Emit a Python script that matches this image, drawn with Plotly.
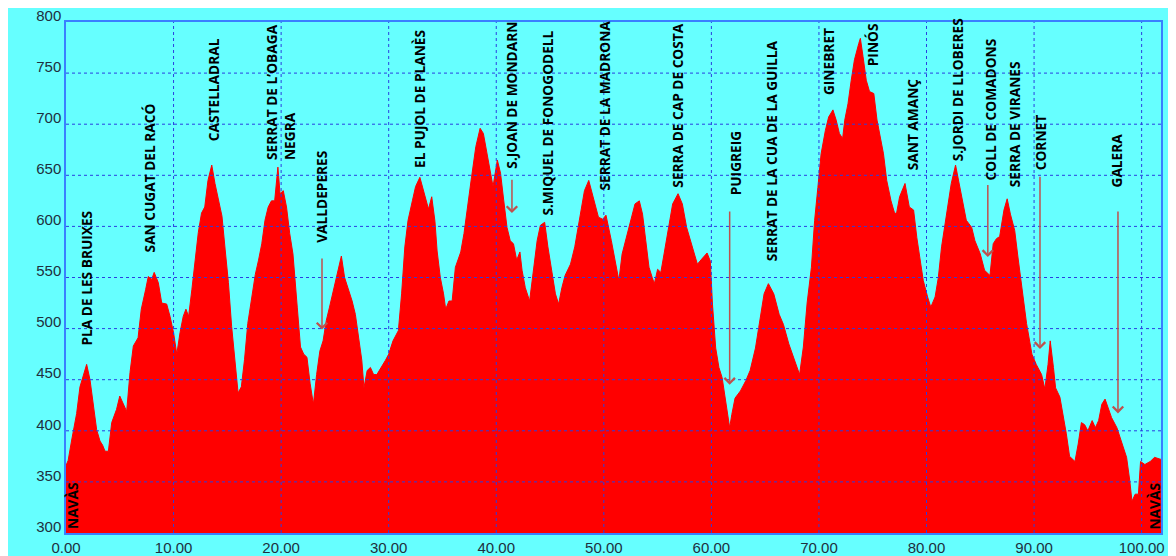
import plotly.graph_objects as go

# ---------------- data ----------------
km = [0.0, 0.2, 0.53, 0.99, 1.3, 1.6, 1.92, 2.23, 2.54, 2.85, 3.16, 3.4, 3.63, 3.94, 4.25, 4.7, 5.0, 5.3, 5.64, 5.95,
      6.26, 6.7, 7.0, 7.4, 7.65, 7.96, 8.2, 8.58, 8.9, 9.36, 9.67, 10.0, 10.3, 10.6, 10.9, 11.15, 11.4, 11.7, 12.0, 12.3,
      12.6, 12.9, 13.2, 13.55, 13.85, 14.2, 14.5, 14.8, 15.1, 15.4, 15.7, 16.0, 16.3, 16.6, 16.9, 17.3, 17.6, 17.9, 18.2,
      18.5, 18.8, 19.1, 19.4, 19.7, 19.9, 20.2, 20.5, 20.8, 21.1, 21.5, 21.8, 22.1, 22.4, 22.7, 23.0, 23.3, 23.6, 23.9,
      24.2, 24.5, 24.9, 25.2, 25.6, 25.9, 26.3, 26.6, 26.9, 27.2, 27.5, 27.7, 28.0, 28.3, 28.6, 28.9, 29.2, 29.7, 30.0,
      30.4, 30.9, 31.2, 31.5, 31.8, 32.2, 32.5, 32.9, 33.4, 33.7, 34.0, 34.3, 34.5, 34.8, 35.1, 35.3, 35.6, 35.9, 36.2,
      36.7, 37.0, 37.4, 37.7, 38.1, 38.5, 38.8, 39.1, 39.4, 39.7, 40.1, 40.4, 40.7, 41.0, 41.3, 41.6, 41.9, 42.2, 42.4,
      42.7, 43.1, 43.5, 43.8, 44.1, 44.5, 44.8, 45.2, 45.5, 45.8, 46.1, 46.4, 46.9, 47.3, 47.8, 48.2, 48.6, 49.0, 49.5,
      49.9, 50.2, 50.7, 51.1, 51.4, 51.7, 52.2, 52.6, 52.9, 53.3, 53.6, 53.9, 54.2, 54.5, 54.7, 55.0, 55.3, 55.6, 56.0,
      56.4, 56.9, 57.3, 57.7, 58.2, 58.7, 59.1, 59.6, 59.9, 60.1, 60.4, 60.7, 61.0, 61.3, 61.7, 61.9, 62.2, 62.7, 63.2,
      63.6, 64.1, 64.4, 64.9, 65.3, 65.8, 66.3, 66.7, 67.2, 67.8, 68.2, 68.55, 68.9, 69.3, 69.6, 69.9, 70.2, 70.6, 70.9,
      71.3, 71.6, 71.9, 72.2, 72.4, 72.7, 73.0, 73.3, 73.7, 73.85, 74.1, 74.4, 74.7, 75.1, 75.4, 75.7, 76.0, 76.3, 76.7,
      77.0, 77.2, 77.5, 78.0, 78.4, 78.8, 79.1, 79.4, 79.7, 80.1, 80.4, 80.8, 81.1, 81.4, 81.9, 82.3, 82.7, 83.1, 83.4,
      83.7, 84.2, 84.5, 85.0, 85.4, 85.9, 86.2, 86.5, 86.8, 87.2, 87.5, 87.8, 88.2, 88.5, 88.9, 89.3, 89.8, 90.2, 90.7,
      91.0, 91.3, 91.5, 91.8, 92.0, 92.4, 92.7, 93.0, 93.3, 93.8, 94.1, 94.4, 94.7, 95.0, 95.4, 95.7, 96.0, 96.3, 96.6,
      96.9, 97.2, 97.7, 98.1, 98.6, 98.9, 99.1, 99.4, 99.7, 99.9, 100.3, 100.8, 101.2, 101.8]
elev = [366, 371, 391, 417, 443, 453, 465, 450, 424, 401, 390, 386, 380, 380, 408, 421, 434, 427, 419, 457,
        483, 491, 519, 538, 551, 548, 555, 545, 525, 524, 512, 496, 475, 496, 512, 519, 512, 538, 564, 594,
        613, 619, 645, 660, 642, 623, 610, 577, 545, 502, 466, 437, 443, 470, 505, 534, 553, 567, 583,
        606, 619, 625, 625, 658, 632, 635, 619, 593, 573, 521, 482, 475, 472, 446, 426, 455, 478, 488,
        508, 521, 540, 553, 571, 550, 537, 527, 514, 491, 469, 442, 459, 462, 455, 455, 460, 469, 475,
        488, 498, 534, 580, 606, 625, 639, 648, 629, 617, 629, 605, 576, 550, 534, 519, 527, 527, 560,
        575, 593, 622, 648, 678, 696, 691, 674, 658, 639, 665, 652, 625, 599, 586, 583, 567, 575, 557,
        540, 527, 560, 586, 601, 604, 580, 553, 534, 524, 540, 552, 563, 580, 612, 635, 645, 629, 609,
        607, 611, 586, 565, 547, 573, 593, 609, 622, 625, 612, 586, 560, 550, 544, 558, 555, 573, 599,
        622, 632, 622, 599, 581, 563, 568, 574, 566, 524, 481, 462, 452, 429, 403, 416, 432, 439, 449,
        459, 481, 501, 534, 544, 534, 514, 504, 485, 468, 455, 482, 525, 560, 606, 638, 671, 694, 707,
        714, 704, 691, 686, 704, 720, 743, 763, 779, 784, 766, 743, 732, 730, 704, 688, 671, 645, 625,
        614, 612, 629, 642, 619, 616, 589, 567, 547, 531, 521, 531, 550, 580, 612, 642, 660, 638, 619,
        606, 599, 586, 573, 557, 552, 583, 588, 590, 616, 627, 612, 596, 570, 537, 505, 475, 465, 455,
        441, 465, 488, 462, 442, 433, 416, 397, 375, 370, 387, 408, 406, 400, 410, 403, 410, 426, 431,
        423, 413, 403, 390, 374, 351, 331, 338, 338, 370, 367, 370, 374, 372]

x_ticks = [0, 10, 20, 30, 40, 50, 60, 70, 80, 90, 100]
y_ticks = [300, 350, 400, 450, 500, 550, 600, 650, 700, 750, 800]

place_names = ["NAVÀS", "PLA DE LES BRUIXES", "SAN CUGAT DEL RACÓ", "CASTELLADRAL",
               "SERRAT DE L’OBAGA<br>NEGRA", "VALLDEPERES", "EL PUJOL DE PLANÈS", "S.JOAN DE MONDARN",
               "S.MIQUEL DE FONOGODELL", "SERRAT DE LA MADRONA", "SERRA DE CAP DE COSTA", "PUIGREIG",
               "SERRAT DE LA CUA DE LA GUILLA", "GINEBRET", "PINÓS", "SANT AMANÇ", "S.JORDI DE LLOBERES",
               "COLL DE COMADONS", "SERRA DE VIRANES", "CORNET", "GALERA", "NAVÀS"]
place_km = [0.65, 1.95, 7.8, 13.67, 19.9, 23.8, 32.8, 41.46, 44.8, 50.1, 56.9, 62.2,
            65.6, 70.84, 75.0, 78.65, 82.9, 85.9, 88.2, 90.6, 97.7, 101.2]
place_elev = [302, 482, 573, 681, 663, 582, 655, 655, 609, 633, 636, 628,
              564, 727, 755, 653, 662, 643, 636, 653, 636, 301]

arrow_km = [23.8, 41.46, 61.7, 85.7, 90.55, 97.8]
arrow_from = [570, 647, 616, 642, 650, 616]
arrow_to = [499, 613, 445, 570, 480, 417]

# ---------------- figure ----------------
CYAN = "#66FFFF"
fig = go.Figure()
fig.add_trace(go.Scatter(x=km, y=elev, mode="lines", fill="tozeroy",
                         fillcolor="#FF0000", line=dict(color="#FF0000", width=1),
                         hoverinfo="skip", showlegend=False))

shapes = []
grid = dict(color="#2A3FE0", width=1, dash="dot")
for xv in x_ticks[1:]:
    shapes.append(dict(type="line", xref="x", yref="paper", x0=xv, x1=xv, y0=0, y1=1,
                       line=grid, layer="above"))
for yv in y_ticks[1:-1]:
    shapes.append(dict(type="line", xref="paper", yref="y", x0=0, x1=1, y0=yv, y1=yv,
                       line=grid, layer="above"))

annotations = []
for name, xv, yv in zip(place_names, place_km, place_elev):
    annotations.append(dict(x=xv, y=yv, xref="x", yref="y", text=name, showarrow=False,
                            textangle=-90, xanchor="center", yanchor="bottom", align="left",
                            font=dict(family="Open Sans", size=13.7, color="black", weight="bold")))
for xv, y0, y1 in zip(arrow_km, arrow_from, arrow_to):
    annotations.append(dict(x=xv, y=y1, ax=xv, ay=y0, xref="x", yref="y", axref="x", ayref="y",
                            text="", showarrow=True, arrowhead=4, arrowsize=1.35, arrowwidth=1.5,
                            arrowcolor="#C0504D"))

axis_line = "#3A7FFF"
fig.update_layout(
    width=1168, height=548,
    margin=dict(l=58, r=15, t=14, b=23, autoexpand=False),
    paper_bgcolor=CYAN, plot_bgcolor=CYAN,
    shapes=shapes, annotations=annotations,
    xaxis=dict(range=[0, 101.8], tickvals=x_ticks, tickformat=".2f", showgrid=False, zeroline=False,
               showline=True, linecolor=axis_line, linewidth=1.5, mirror=True, ticks="",
               tickfont=dict(family="Liberation Sans", size=15, color="#1E2F3E"), automargin=False),
    yaxis=dict(range=[300, 800], tickvals=y_ticks, showgrid=False, zeroline=False,
               showline=True, linecolor=axis_line, linewidth=1.5, mirror=True, ticks="",
               ticklabelposition="outside top", ticklabeloverflow="allow",
               ticklabelshift=4,
               tickfont=dict(family="Liberation Sans", size=15, color="#1E2F3E"), automargin=False),
)
fig.write_html("out.html")
